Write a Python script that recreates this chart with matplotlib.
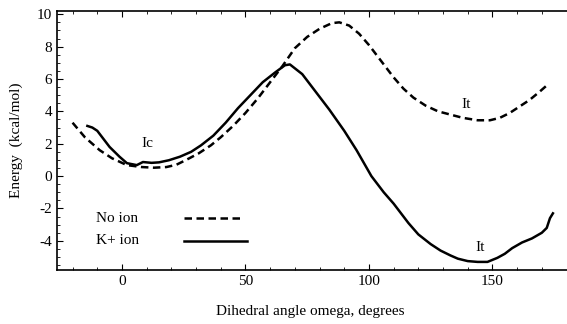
import matplotlib
matplotlib.use("Agg")
import matplotlib.pyplot as plt
from matplotlib.ticker import MultipleLocator

plt.rcParams['font.family'] = ['Liberation Serif', 'DejaVu Serif']
plt.rcParams['axes.unicode_minus'] = False

# No ion (dashed)
noion_x = [-20, -15, -9, -4, 2, 8, 13, 18, 22, 26, 31, 36, 40, 45, 50, 55, 60, 65, 70, 75, 80, 85,
           88, 92, 96, 100, 105, 110, 114, 118, 123, 128, 133, 138, 144, 149, 153, 157, 161, 165, 169, 172]
noion_y = [3.3, 2.4, 1.6, 1.1, 0.68, 0.56, 0.52, 0.56, 0.7, 1.0, 1.4, 1.9, 2.4, 3.1, 3.9, 4.8, 5.8, 6.8, 7.9, 8.6, 9.1, 9.45,
           9.5, 9.3, 8.8, 8.1, 7.1, 6.1, 5.4, 4.85, 4.35, 4.0, 3.8, 3.6, 3.45, 3.45, 3.6, 3.9, 4.3, 4.7, 5.2, 5.6]

# K+ ion (solid)
kion_x = [-14, -12, -10, -5, -1, 2, 6, 8.5, 12, 15, 19, 23.5, 28, 32, 37, 42, 47, 52, 57, 62, 66, 68,
          73, 78, 84, 90, 95, 101, 106, 110, 116, 120, 125, 129, 133, 136, 140, 144, 148, 152, 155, 158,
          162, 166, 170, 172, 173.3, 174.5]
kion_y = [3.1, 3.0, 2.8, 1.8, 1.2, 0.8, 0.68, 0.87, 0.82, 0.85, 0.98, 1.2, 1.5, 1.9, 2.5, 3.3, 4.2, 5.0, 5.8, 6.4, 6.85, 6.9,
          6.3, 5.3, 4.1, 2.8, 1.6, 0.0, -1.0, -1.7, -2.9, -3.6, -4.2, -4.6, -4.9, -5.1, -5.25, -5.3, -5.3, -5.05, -4.8, -4.45,
          -4.1, -3.85, -3.5, -3.2, -2.6, -2.3]

fig = plt.figure(figsize=(5.67, 3.24), dpi=100)
ax = fig.add_axes([57/567, 1 - 270/324, (567 - 57)/567, (270 - 11)/324])

ax.plot(noion_x, noion_y, color='black', lw=1.8, linestyle=(0, (3, 1.8)))
ax.plot(kion_x, kion_y, color='black', lw=1.8)

ax.set_xlim(-26.3, 180.2)
ax.set_ylim(-5.8, 10.2)

ax.xaxis.set_major_locator(MultipleLocator(50))
ax.xaxis.set_minor_locator(MultipleLocator(10))
ax.yaxis.set_major_locator(MultipleLocator(2))
ax.yaxis.set_minor_locator(MultipleLocator(0.5))
ax.tick_params(which='both', direction='in', top=True, right=False, labelsize=11)
ax.tick_params(which='major', length=4)
ax.tick_params(which='minor', length=2)
ax.spines['right'].set_visible(False)
for s in ['left', 'top', 'bottom']:
    ax.spines[s].set_linewidth(1.2)

ax.text(10.5, 2.0, 'Ic', fontsize=11, ha='center', va='center')
ax.text(139.5, 4.4, 'It', fontsize=11, ha='center', va='center')
ax.text(145, -4.4, 'It', fontsize=11, ha='center', va='center')

# legend drawn as text + lines in data coords
ax.text(-10.5, -2.6, 'No ion', fontsize=11, ha='left', va='center')
ax.text(-10.5, -4.0, 'K+ ion', fontsize=11, ha='left', va='center')
ax.plot([25, 49.5], [-2.6, -2.6], color='black', lw=1.8, linestyle=(0, (3, 1.8)))
ax.plot([25, 50.5], [-4.0, -4.0], color='black', lw=1.8)

fig.text(310/567, 1 - 311/324, 'Dihedral angle omega, degrees', fontsize=11, ha='center', va='center')
fig.text(16/567, 1 - 140/324, 'Energy  (kcal/mol)', fontsize=11, ha='center', va='center', rotation=90)

fig.savefig('out.png', dpi=100)
